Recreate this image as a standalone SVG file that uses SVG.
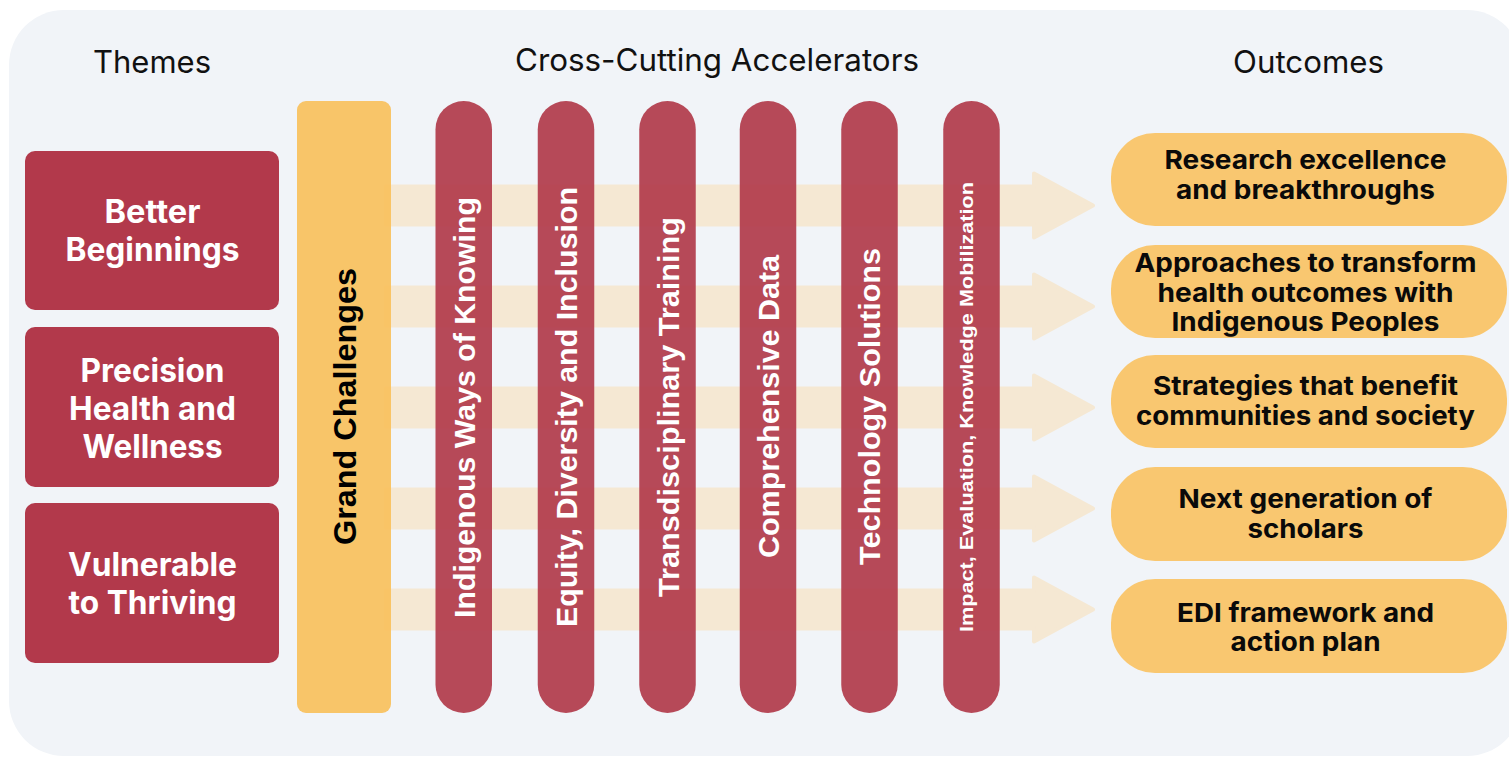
<svg xmlns="http://www.w3.org/2000/svg" width="1509" height="757" viewBox="0 0 1509 757">
  <defs>
    <style>
      .head { font-family: Inter, "Liberation Sans", sans-serif; font-size: 31px; font-weight: 400; fill: #111111; text-anchor: middle; }
      .theme-box { fill: #B2394B; }
      .theme-txt { font-family: Inter, "Liberation Sans", sans-serif; font-size: 32px; font-weight: 700; fill: #FFFFFF; text-anchor: middle; }
      .grand { fill: #F9C15E; fill-opacity: 0.93; }
      .grand-txt { font-family: "Liberation Sans", Arial, sans-serif; font-size: 32px; font-weight: 700; fill: #000000; text-anchor: middle; }
      .pillar { fill: #B23B4B; fill-opacity: 0.93; }
      .pillar-txt { font-family: "Liberation Sans", Arial, sans-serif; font-size: 30px; font-weight: 700; fill: #FFFFFF; text-anchor: middle; }
      .pillar-small { font-size: 17.5px; }
      .arrow { fill: #F5E8D3; stroke: #F5E8D3; stroke-width: 4; stroke-linejoin: round; }
      .outcome { fill: #F9C770; }
      .outcome-txt { font-family: Inter, "Liberation Sans", sans-serif; font-size: 26px; font-weight: 700; fill: #0A0A0A; text-anchor: middle; }
    </style>
  </defs>

  <!-- panel -->
  <rect x="9" y="10" width="1513" height="746" rx="55" ry="55" fill="#F1F4F8"/>

  <!-- column headings -->
  <text class="head" x="152" y="73" textLength="118" lengthAdjust="spacingAndGlyphs">Themes</text>
  <text class="head" x="717" y="71" textLength="404" lengthAdjust="spacingAndGlyphs">Cross-Cutting Accelerators</text>
  <text class="head" x="1308.5" y="73" textLength="151" lengthAdjust="spacingAndGlyphs">Outcomes</text>

  <!-- flow arrows toward the outcomes -->
  <g id="connectors">
    <path class="arrow" d="M386,186.5 H1034 V173.5 L1093,205.5 L1034,237.5 V224.5 H386 Z"/>
    <path class="arrow" d="M386,287.5 H1034 V274.5 L1093,306.5 L1034,338.5 V325.5 H386 Z"/>
    <path class="arrow" d="M386,388.5 H1034 V375.5 L1093,407.5 L1034,439.5 V426.5 H386 Z"/>
    <path class="arrow" d="M386,489.5 H1034 V476.5 L1093,508.5 L1034,540.5 V527.5 H386 Z"/>
    <path class="arrow" d="M386,590.5 H1034 V577.5 L1093,609.5 L1034,641.5 V628.5 H386 Z"/>
  </g>

  <!-- themes -->
  <g id="theme-better-beginnings">
    <rect class="theme-box" x="25" y="151" width="254" height="159" rx="10"/>
    <text class="theme-txt" x="152.5" y="223" textLength="96" lengthAdjust="spacingAndGlyphs">Better</text>
    <text class="theme-txt" x="152.5" y="261" textLength="174" lengthAdjust="spacingAndGlyphs">Beginnings</text>
  </g>
  <g id="theme-precision-health">
    <rect class="theme-box" x="25" y="327" width="254" height="160" rx="10"/>
    <text class="theme-txt" x="152.5" y="382" textLength="144" lengthAdjust="spacingAndGlyphs">Precision</text>
    <text class="theme-txt" x="152.5" y="420" textLength="167" lengthAdjust="spacingAndGlyphs">Health and</text>
    <text class="theme-txt" x="152.5" y="458" textLength="140" lengthAdjust="spacingAndGlyphs">Wellness</text>
  </g>
  <g id="theme-vulnerable-thriving">
    <rect class="theme-box" x="25" y="503" width="254" height="160" rx="10"/>
    <text class="theme-txt" x="152.5" y="576" textLength="169" lengthAdjust="spacingAndGlyphs">Vulnerable</text>
    <text class="theme-txt" x="152.5" y="614" textLength="168" lengthAdjust="spacingAndGlyphs">to Thriving</text>
  </g>

  <!-- grand challenges column -->
  <g id="grand-challenges">
    <rect class="grand" x="297" y="101" width="94" height="612" rx="9"/>
    <text class="grand-txt" transform="translate(344,406.5) rotate(-90)" x="0" y="11.5" textLength="277" lengthAdjust="spacingAndGlyphs">Grand Challenges</text>
  </g>

  <!-- cross-cutting accelerators -->
  <g id="acc-indigenous">
    <rect class="pillar" x="435.5" y="101" width="56.5" height="612" rx="28.25"/>
    <text class="pillar-txt" transform="translate(463.75,407.5) rotate(-90)" x="0" y="11" textLength="421" lengthAdjust="spacingAndGlyphs">Indigenous Ways of Knowing</text>
  </g>
  <g id="acc-edi">
    <rect class="pillar" x="537.75" y="101" width="56.5" height="612" rx="28.25"/>
    <text class="pillar-txt" transform="translate(566,407) rotate(-90)" x="0" y="11" textLength="440" lengthAdjust="spacingAndGlyphs">Equity, Diversity and Inclusion</text>
  </g>
  <g id="acc-training">
    <rect class="pillar" x="639.25" y="101" width="56.5" height="612" rx="28.25"/>
    <text class="pillar-txt" transform="translate(667.5,407) rotate(-90)" x="0" y="11" textLength="380" lengthAdjust="spacingAndGlyphs">Transdisciplinary Training</text>
  </g>
  <g id="acc-data">
    <rect class="pillar" x="739.75" y="101" width="56.5" height="612" rx="28.25"/>
    <text class="pillar-txt" transform="translate(768,406.5) rotate(-90)" x="0" y="11" textLength="303" lengthAdjust="spacingAndGlyphs">Comprehensive Data</text>
  </g>
  <g id="acc-technology">
    <rect class="pillar" x="841.25" y="101" width="56.5" height="612" rx="28.25"/>
    <text class="pillar-txt" transform="translate(869.5,406.5) rotate(-90)" x="0" y="10.5" textLength="317" lengthAdjust="spacingAndGlyphs">Technology Solutions</text>
  </g>
  <g id="acc-impact">
    <rect class="pillar" x="943.25" y="101" width="56.5" height="612" rx="28.25"/>
    <text class="pillar-txt pillar-small" transform="translate(971.5,407) rotate(-90)" x="0" y="1.5" textLength="450" lengthAdjust="spacingAndGlyphs">Impact, Evaluation, Knowledge Mobilization</text>
  </g>

  <!-- outcomes -->
  <g id="out-research">
    <rect class="outcome" x="1111" y="133" width="396" height="93" rx="44"/>
    <text class="outcome-txt" x="1305.5" y="169" textLength="282" lengthAdjust="spacingAndGlyphs">Research excellence</text>
    <text class="outcome-txt" x="1305.5" y="199" textLength="259" lengthAdjust="spacingAndGlyphs">and breakthroughs</text>
  </g>
  <g id="out-indigenous">
    <rect class="outcome" x="1111" y="245" width="396" height="93" rx="44"/>
    <text class="outcome-txt" x="1305.5" y="272" textLength="342" lengthAdjust="spacingAndGlyphs">Approaches to transform</text>
    <text class="outcome-txt" x="1305.5" y="302" textLength="296" lengthAdjust="spacingAndGlyphs">health outcomes with</text>
    <text class="outcome-txt" x="1305.5" y="331" textLength="268" lengthAdjust="spacingAndGlyphs">Indigenous Peoples</text>
  </g>
  <g id="out-communities">
    <rect class="outcome" x="1111" y="355" width="396" height="93" rx="44"/>
    <text class="outcome-txt" x="1305.5" y="395" textLength="305" lengthAdjust="spacingAndGlyphs">Strategies that benefit</text>
    <text class="outcome-txt" x="1305.5" y="425" textLength="339" lengthAdjust="spacingAndGlyphs">communities and society</text>
  </g>
  <g id="out-scholars">
    <rect class="outcome" x="1111" y="467" width="396" height="94" rx="44"/>
    <text class="outcome-txt" x="1305.5" y="508" textLength="254" lengthAdjust="spacingAndGlyphs">Next generation of</text>
    <text class="outcome-txt" x="1305.5" y="538" textLength="116" lengthAdjust="spacingAndGlyphs">scholars</text>
  </g>
  <g id="out-edi">
    <rect class="outcome" x="1111" y="579" width="396" height="94" rx="44"/>
    <text class="outcome-txt" x="1305.5" y="622" textLength="257" lengthAdjust="spacingAndGlyphs">EDI framework and</text>
    <text class="outcome-txt" x="1305.5" y="651" textLength="150" lengthAdjust="spacingAndGlyphs">action plan</text>
  </g>
</svg>
